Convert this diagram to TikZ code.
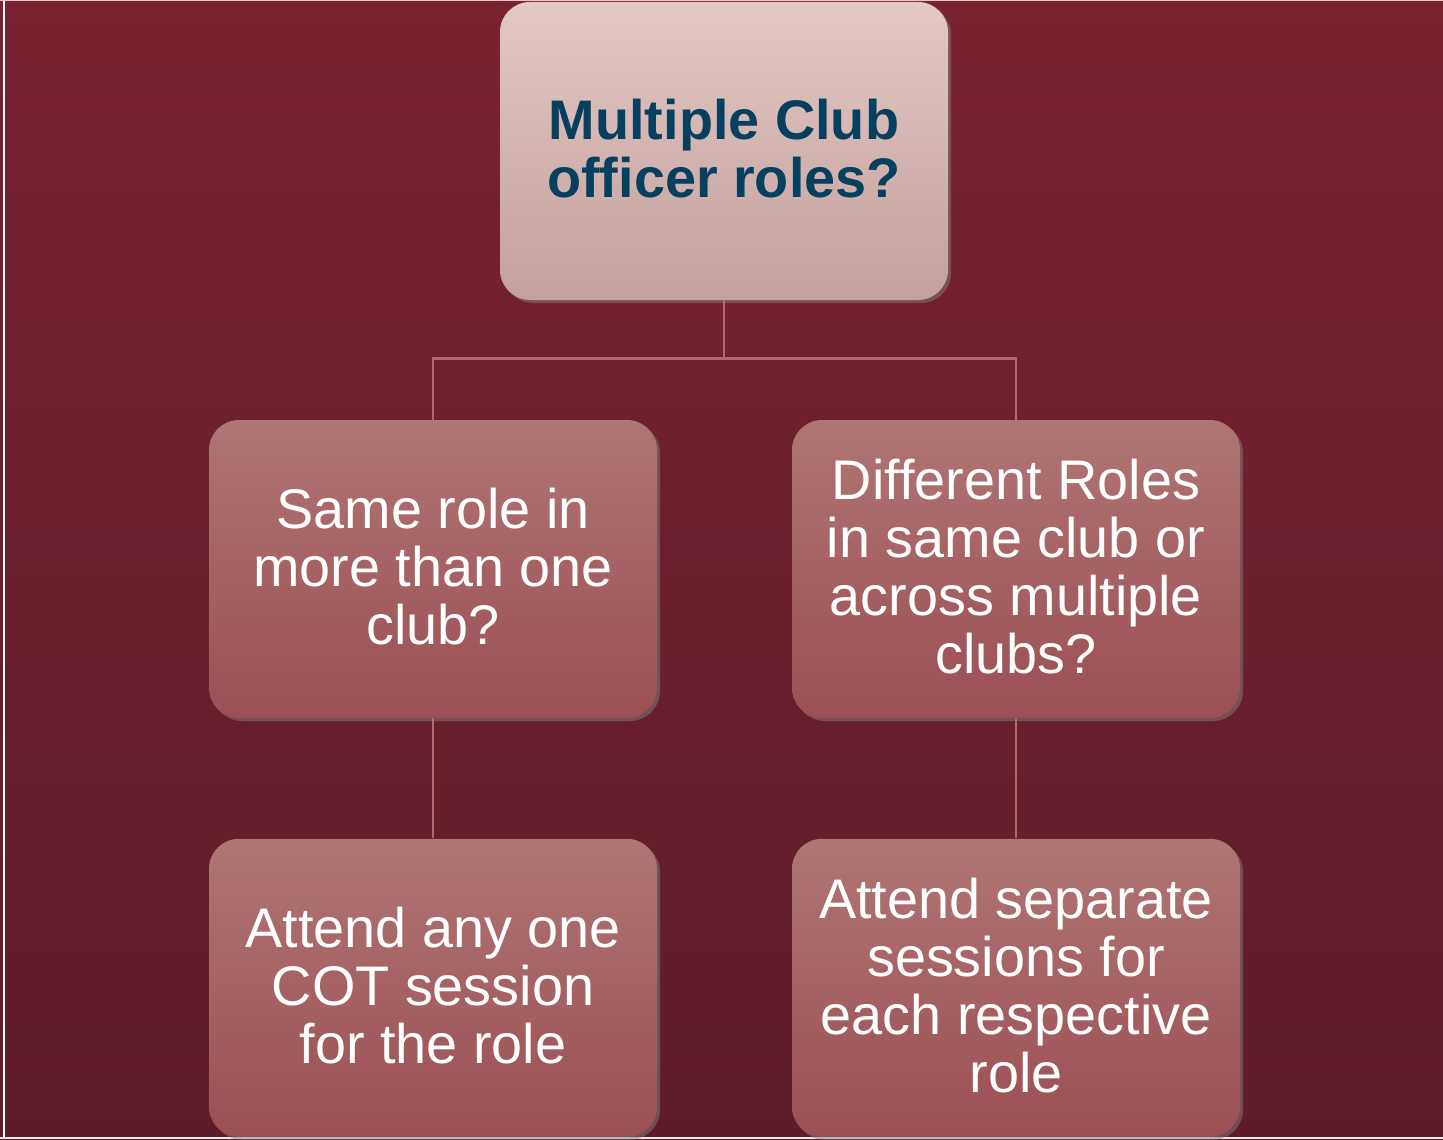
\documentclass[tikz,border=0pt]{standalone}
\usepackage{fontspec}
\setmainfont{Liberation Sans}
\usetikzlibrary{positioning,shadows}
\definecolor{bgtop}{HTML}{792230}
\definecolor{bgbot}{HTML}{5E1C2B}
\definecolor{qtop}{HTML}{E3C8C4}
\definecolor{qbot}{HTML}{C3A09E}
\definecolor{btop}{HTML}{B07575}
\definecolor{bbot}{HTML}{9B4F55}
\definecolor{qtext}{HTML}{073F5E}
\definecolor{link}{HTML}{B3686F}
\tikzset{x=0.5pt,y=-0.5pt,
	node distance=60pt,
	box/.style={
		rounded corners=15pt,
		minimum width=224pt,
		minimum height=149pt,
		align=center,
		inner sep=0pt,
		text depth=2.5pt,
		font=\fontsize{27.9}{29}\selectfont,
		text=white,
		top color=btop,
		bottom color=bbot,
		drop shadow={opacity=0.5,shadow xshift=1.5pt,shadow yshift=-1.5pt}
	},
	qbox/.style={
		box,
		top color=qtop,
		bottom color=qbot,
		text=qtext,
		font=\fontsize{27.9}{29}\selectfont\bfseries
	},
	every edge/.style={
		draw=link,
		line width=1.1pt
	}
}
\begin{document}
\begin{tikzpicture}
	% background
	\shade[top color=bgtop,bottom color=bgbot] (0,0) rectangle (1443,1139);
	\useasboundingbox (0,0) rectangle (1443,1139);
	\fill[gray!15] (0,1136.5) rectangle (1443,1139);
	\draw[white,line width=0.6pt] (4,0) -- (4,1136.5);
	\draw[qtop,line width=0.6pt] (0,0.6) -- (1443,0.6);

	\node[qbox] (q) at (724,151) {Multiple Club\\officer roles?};
	\node[box] (same) at (433,569) {Same role in\\more than one\\club?};
	\node[box] (diff) at (1016,569) {Different Roles\\in same club or\\across multiple\\clubs?};
	\node[box, below=of same] (one) {Attend any one\\COT session\\for the role};
	\node[box, below=of diff] (sep) {Attend separate\\sessions for\\each respective\\role};

	\coordinate (fork) at ([yshift=-29pt]q.south);
	\draw[draw=link,line width=1.1pt] (q.south) -- (fork) -| (same.north);
	\draw[draw=link,line width=1.1pt] (fork) -| (diff.north);
	\draw (same) edge (one) (diff) edge (sep);
\end{tikzpicture}
\end{document}
